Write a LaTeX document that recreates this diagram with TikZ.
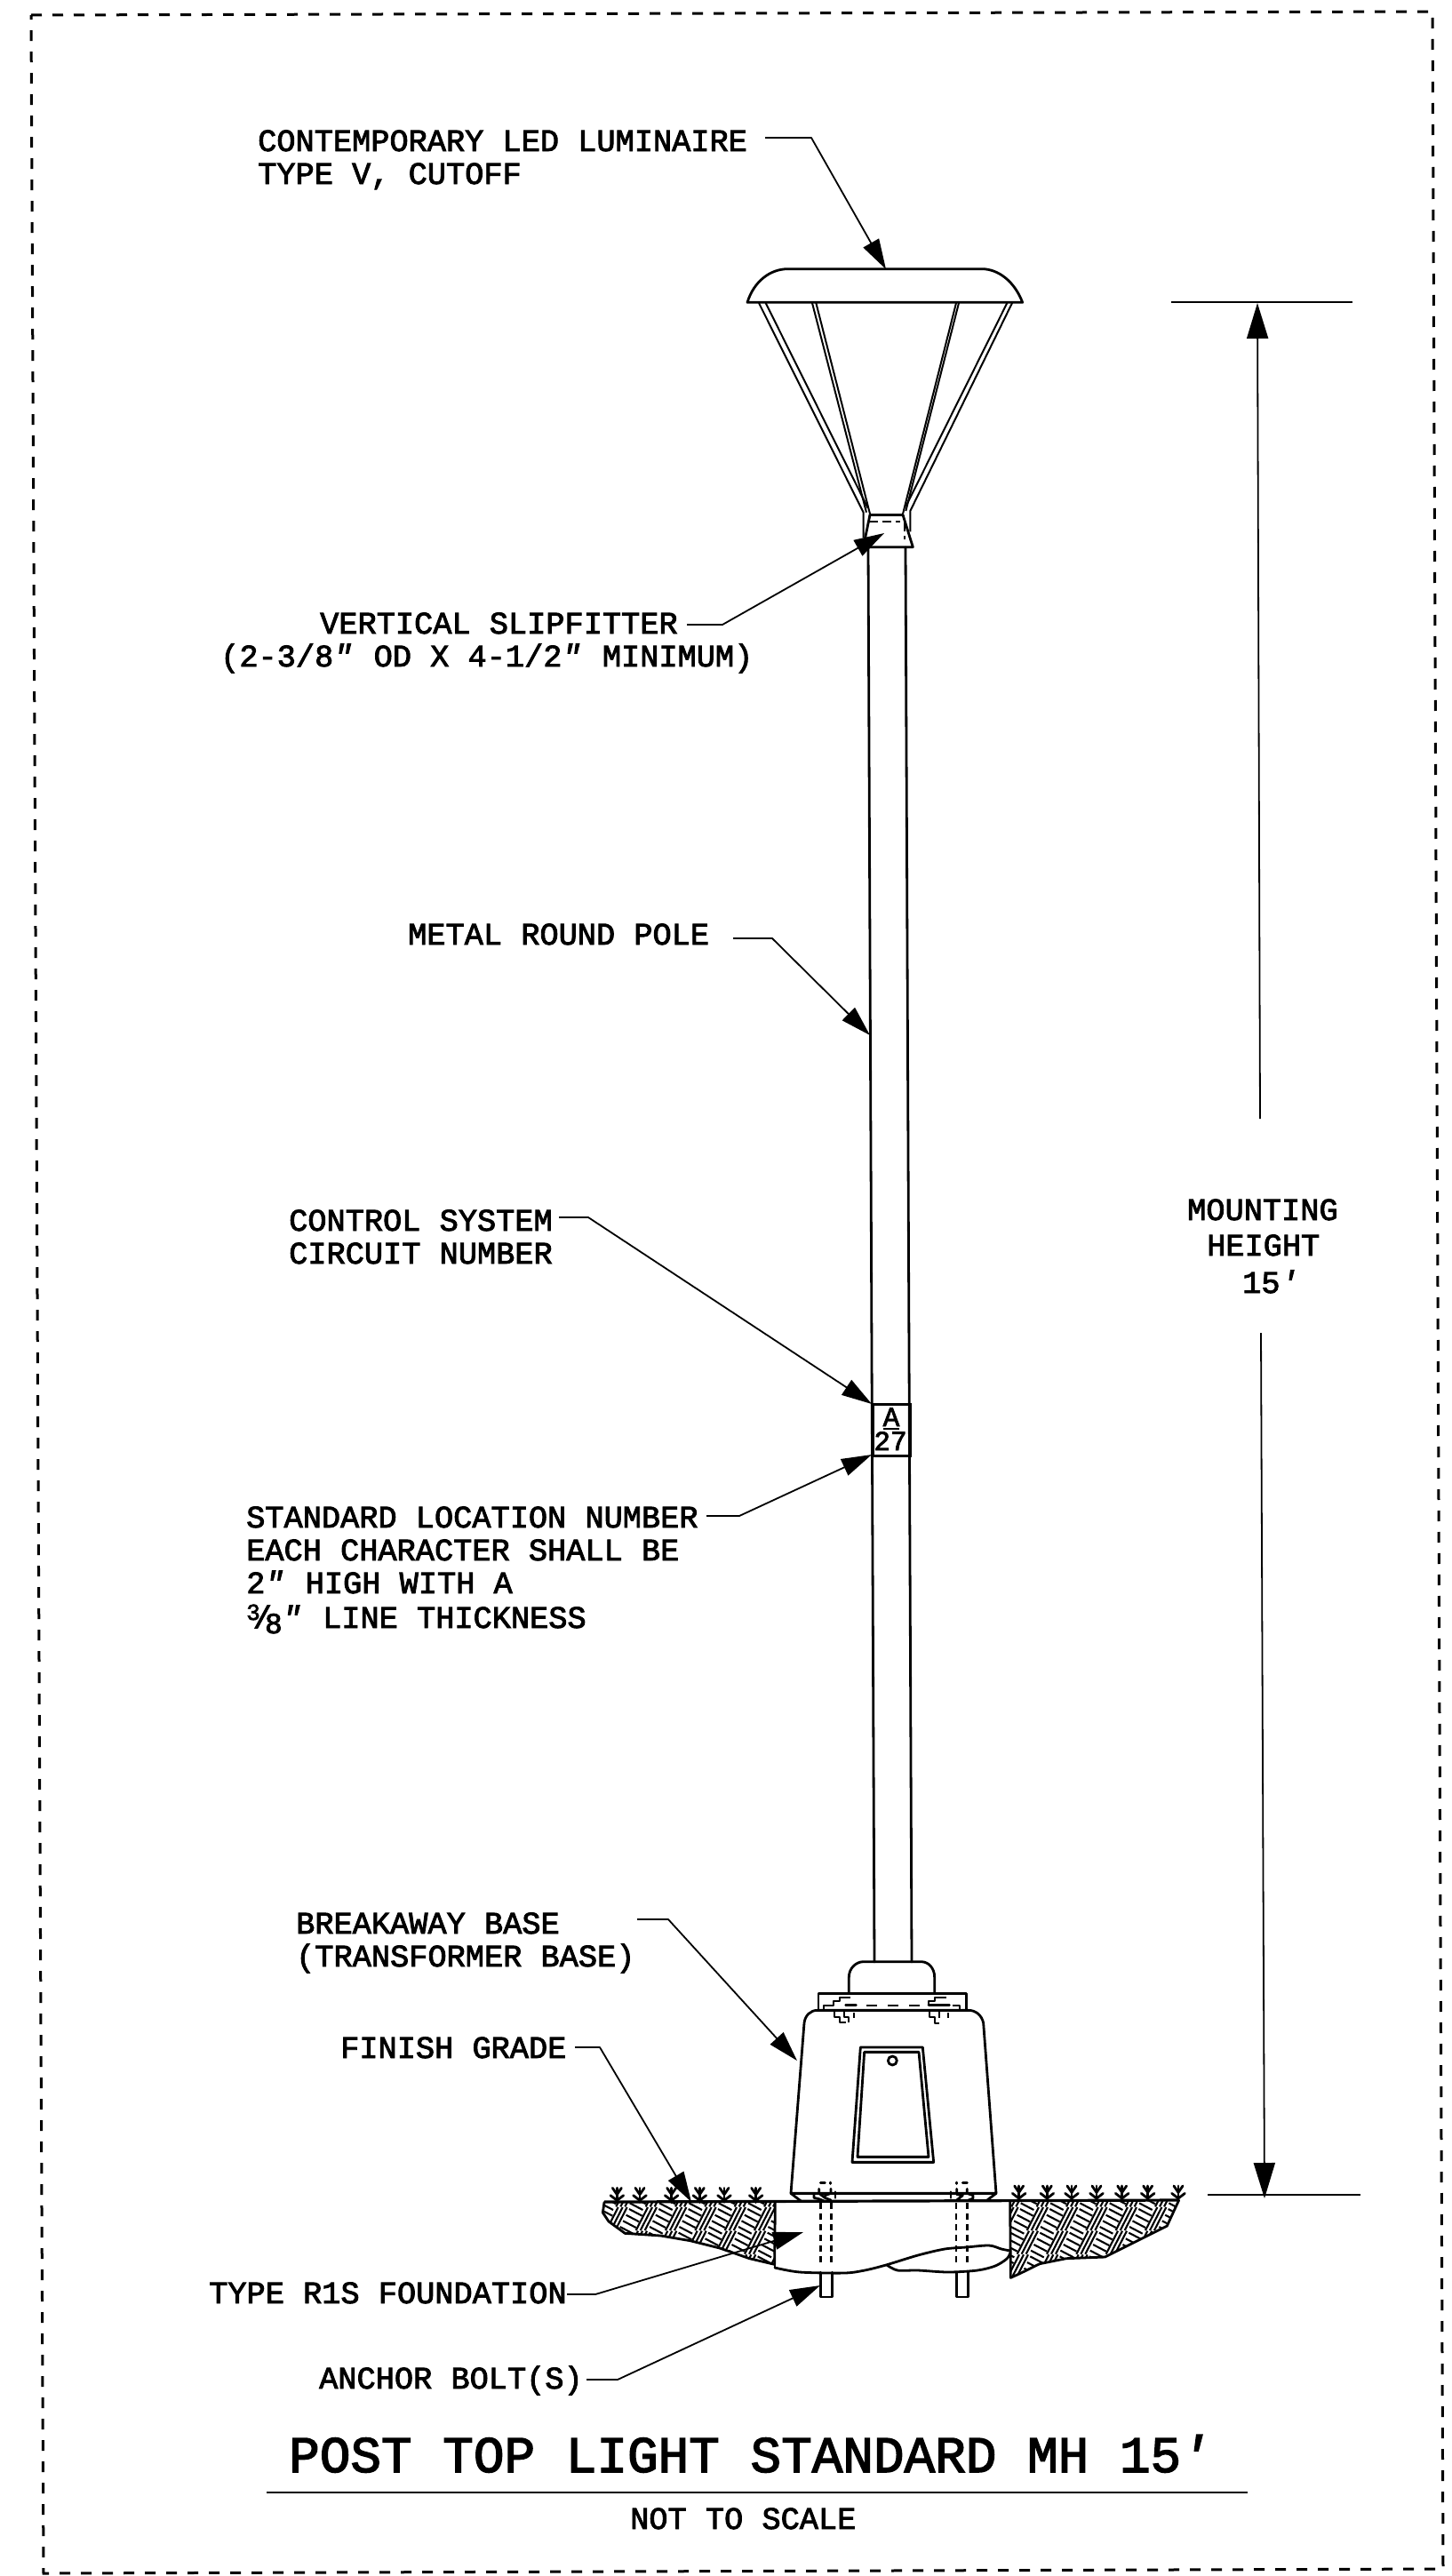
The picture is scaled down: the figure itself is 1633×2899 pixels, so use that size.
\documentclass[tikz,border=0pt]{standalone}
\usepackage{fontspec}
\setmainfont{Liberation Mono}[FakeBold=2.5]
\usetikzlibrary{arrows.meta,calc}
\newcommand{\inchmark}{{\itshape ″}\kern3pt\relax}
\newcommand{\footmark}{{\itshape ′}}
\tikzset{
 lbl/.style={anchor=base west,inner sep=0pt,font=\fontsize{35.3}{40}\selectfont},
 ttl/.style={anchor=base west,inner sep=0pt,font=\fontsize{57.7}{60}\selectfont},
 plate/.style={anchor=base,inner sep=0pt,font=\fontsize{31}{33}\selectfont},
 ln/.style={line width=2.8pt,line join=round,line cap=round},
 thinln/.style={line width=2pt,line join=round},
 leader/.style={line width=1.8pt,line join=round},
 tipA/.style={-{Triangle[length=34pt,width=20pt]}},
 tipD/.style={-{Triangle[length=40pt,width=24pt]}},
 dsh/.style={line width=2.6pt,dash pattern=on 7pt off 5pt},
 brd/.style={line width=3pt,dash pattern=on 12pt off 12pt},
 hatchln/.style={line width=2.1pt,line cap=butt},
 zm/.style={x=0.33333pt,y=-0.33333pt}
}
\newcommand{\herring}{%
 \foreach \i in {-2,...,13}{\foreach \j in {-1,...,5}{%
  \pgfmathsetmacro{\X}{\i*100-\j*33}\pgfmathsetmacro{\Y}{\j*80+130}%
  \foreach \k in {0,1,2}{%
   \draw[hatchln] (\X+15*\k,\Y) -- ++(40,-78);
  }%
  \foreach \k in {0,1,2,3}{%
   \pgfmathsetmacro{\sx}{\X+40+40*(72-20*\k)/78}%
   \pgfmathsetmacro{\sy}{\Y-72+20*\k}%
   \draw[hatchln] (\sx,\sy) -- ++(44,23);
  }}}}
\begin{document}
\begin{tikzpicture}[x=1pt,y=-1pt]
\useasboundingbox (0,0) rectangle (1633,2899);
\fill[white] (0,0) rectangle (1633,2899);
% sheet border
\draw[brd] (35,17) -- (1612,13) -- (1624,2891) -- (49,2896) -- cycle;

% luminaire
\begin{scope}[shift={(780,260)},zm]
\draw[ln] (183,241) -- (1112,241) .. controls (1085,170) and (1030,128) .. (975,128) -- (320,128) .. controls (260,128) and (205,170) .. (183,241) -- cycle;
\draw[thinln] (222,243) -- (575,950) -- (575,1035);
\draw[thinln] (245,243) -- (590,935);
\draw[thinln] (402,243) -- (585,950);
\draw[thinln] (415,243) -- (597,955);
\draw[thinln] (888,243) -- (708,955);
\draw[thinln] (897,243) -- (718,945);
\draw[thinln] (1060,243) -- (718,930);
\draw[thinln] (1077,243) -- (733,945) -- (733,1015);
\draw[ln] (597,958) -- (708,958);
\draw[ln] (597,958) -- (575,1065);
\draw[ln] (708,958) -- (742,1067) -- (590,1067);
\draw[line width=2pt,dash pattern=on 10pt off 5pt] (595,980) -- (700,980);
\draw[line width=2pt,dash pattern=on 10pt off 5pt] (715,985) -- (715,1040);
\end{scope}

% pole
\draw[ln] (977,616) -- (984,2208);
\draw[ln] (1019,616) -- (1026,2208);

% plate on pole
\node[draw,line width=2.6pt,minimum width=42pt,minimum height=58pt,inner sep=0pt,anchor=north west] (platebox) at (981,1579) {};
\node[plate] (plateA) at (1003,1605) {A};
\draw[line width=1.8pt] (994,1608) -- (1012,1608);
\node[plate] (plateN) at (1002,1632) {27};

% base
\begin{scope}[shift={(820,2140)},zm]
\draw[ln] (406,310) -- (406,255) .. controls (406,225) and (430,203) .. (455,203) -- (650,203) .. controls (675,203) and (695,225) .. (695,255) -- (695,310);
\draw[ln] (303,367) -- (303,310) -- (803,310) -- (803,367);
\draw[ln] (210,985) -- (255,410) .. controls (258,385) and (275,367) .. (300,367) -- (810,367) .. controls (835,367) and (855,385) .. (860,410) -- (903,985) -- cycle;
\draw[ln] (210,985) -- (245,1012);
\draw[ln] (903,985) -- (870,1010);
\draw[ln] (445,492) -- (655,492) -- (692,880) -- (417,880) -- cycle;
\draw[ln] (458,508) -- (642,508) -- (675,862) -- (435,862) -- cycle;
\draw[ln] (553,537) circle (15);
\draw[line width=2pt,dash pattern=on 12pt off 12pt] (465,350) -- (660,350);
\draw[thinln] (320,366) -- (320,350) -- (355,350) -- (355,335) -- (375,335) -- (375,323) -- (410,323);
\draw[ln] (395,350) -- (430,350);
\draw[thinln] (358,372) -- (358,390) -- (375,390) -- (375,408) -- (395,408);
\draw[thinln] (390,372) -- (390,390) -- (405,390) -- (405,408);
\draw[thinln] (423,375) -- (423,392);
\draw[thinln] (675,350) -- (675,335) -- (695,335) -- (695,323) -- (735,323);
\draw[ln] (675,350) -- (745,350);
\draw[thinln] (755,350) -- (780,350) -- (780,365);
\draw[thinln] (678,372) -- (678,390) -- (695,390) -- (695,410) -- (712,410);
\draw[thinln] (712,372) -- (712,392);
\draw[thinln] (742,375) -- (742,392);
\end{scope}

% ground hatching
\begin{scope}[shift={(660,2440)},zm]
\begin{scope}
\clip (60,115) -- (55,150) -- (75,180) -- (130,220) -- (250,228) -- (350,245) -- (450,270) -- (550,305) -- (635,325) -- (635,115) -- cycle;
\herring
\end{scope}
\draw[ln] (60,115) -- (55,150) -- (75,180) -- (130,220) -- (250,228) -- (350,245) -- (450,270) -- (550,305) -- (635,325) -- (637,115);
\end{scope}
\begin{scope}[shift={(900,2440)},zm]
\begin{scope}
\clip (710,110) -- (712,370) -- (745,355) -- (810,323) -- (900,305) -- (1030,300) -- (1240,195) -- (1280,108) -- cycle;
\herring
\end{scope}
\draw[ln] (710,110) -- (712,370) -- (745,355) -- (810,323) -- (900,305) -- (1030,300) -- (1240,195) -- (1280,108);
\foreach \tx in {740,835,918,1002,1088,1175,1278}{
 \draw[ln] (\tx,108) -- (\tx,60);
 \draw[ln] (\tx-22,85) -- (\tx,102) -- (\tx+22,85);
 \draw[ln] (\tx-15,60) -- (\tx,82) -- (\tx+15,60);
}
\end{scope}
\begin{scope}[shift={(660,2440)},zm]
\foreach \tx in {103,180,287,382,465,572}{
 \draw[ln] (\tx,115) -- (\tx,67);
 \draw[ln] (\tx-22,92) -- (\tx,109) -- (\tx+22,92);
 \draw[ln] (\tx-15,67) -- (\tx,89) -- (\tx+15,67);
}
\end{scope}
% ground line
\draw[line width=3.2pt] (680,2478) -- (1327,2476);

% foundation
\draw[ln] (872,2478) -- (872,2552);
\draw[ln] plot[smooth,tension=0.5] coordinates {(872,2552) (900,2557) (950,2558) (973,2555) (997,2549) (1033,2538) (1063,2531) (1087,2529) (1113,2527) (1127,2531) (1137,2533)};
\draw[ln] plot[smooth,tension=0.5] coordinates {(998,2549) (1010,2555) (1033,2555) (1067,2557) (1100,2555) (1120,2550) (1133,2542) (1137,2535)};

% anchor bolts and nuts
\begin{scope}[shift={(900,2440)},zm]
\draw[dsh] (70,118) -- (70,330);
\draw[dsh] (106,118) -- (106,330);
\draw[dsh] (528,118) -- (528,330);
\draw[dsh] (565,118) -- (565,330);
\draw[ln] (70,352) -- (70,435) -- (110,435) -- (110,352);
\draw[ln] (530,352) -- (530,435) -- (568,435) -- (568,352);
\draw[ln] (70,50) -- (85,50); \draw[ln] (103,48) -- (103,52);
\draw[ln] (530,48) -- (530,52); \draw[ln] (550,50) -- (565,50);
\draw[ln] (48,88) -- (48,100) -- (65,104) -- (80,110);
\draw[ln] (65,70) -- (65,85) -- (85,100) -- (105,108);
\draw[ln] (85,92) -- (105,85) -- (105,70);
\draw[ln] (120,80) -- (120,100);
\draw[ln] (510,80) -- (510,100);
\draw[ln] (530,70) -- (530,88) -- (550,92) -- (530,108);
\draw[ln] (565,70) -- (565,85) -- (585,92) -- (585,102) -- (565,110);
\end{scope}

% dimension
\draw[thinln] (1318,340) -- (1522,340);
\draw[thinln] (1359,2470) -- (1531,2470);
\coordinate (dimT) at (1415,341);
\coordinate (dimTs) at (1418,1259);
\coordinate (dimB) at (1423,2474);
\coordinate (dimBs) at (1419,1500);
\draw[leader,tipD] (dimTs) -- (dimT);
\draw[leader,tipD] (dimBs) -- (dimB);

% labels
\node[lbl] (lumA) at (290,170) {CONTEMPORARY LED LUMINAIRE};
\node[lbl] (lumB) at (290,207) {TYPE V, CUTOFF};
\node[lbl] (slipA) at (360,713) {VERTICAL SLIPFITTER};
\node[lbl] (slipB) at (248,750) {(2-3/8\inchmark{} OD X 4-1/2\inchmark{} MINIMUM)};
\node[lbl] (poleL) at (459,1063) {METAL ROUND POLE};
\node[lbl] (ctrlA) at (325,1385) {CONTROL SYSTEM};
\node[lbl] (ctrlB) at (325,1422) {CIRCUIT NUMBER};
\node[lbl] (stdA) at (277,1719) {STANDARD LOCATION NUMBER};
\node[lbl] (stdB) at (277,1756) {EACH CHARACTER SHALL BE};
\node[lbl] (stdC) at (277,1793) {2\inchmark{} HIGH WITH A};
\node[lbl] (stdD) at (277,1832) {\raisebox{9pt}{\fontsize{26}{26}\selectfont 3}\kern-8pt/\kern-8pt\raisebox{-6pt}{\fontsize{33}{33}\selectfont 8}\inchmark{} LINE THICKNESS};
\node[lbl] (brkA) at (333,2176) {BREAKAWAY BASE};
\node[lbl] (brkB) at (333,2213) {(TRANSFORMER BASE)};
\node[lbl] (fin) at (383,2316) {FINISH GRADE};
\node[lbl] (fnd) at (235,2592) {TYPE R1S FOUNDATION};
\node[lbl] (anc) at (359,2688) {ANCHOR BOLT(S)};
\node[lbl] (mtA) at (1336,1373) {MOUNTING};
\node[lbl] (mtB) at (1358,1413) {HEIGHT};
\node[lbl] (mtC) at (1398,1455) {15\footmark};
\node[ttl] (title) at (325,2782) {POST TOP LIGHT STANDARD MH 15\kern-2pt\footmark};
\node[lbl] (nts) at (709,2846) {NOT TO SCALE};
\draw[line width=2.6pt] (300,2805) -- (1404,2805);

% leaders
\coordinate (lumS) at (861,155); \coordinate (lumK) at (913,155); \coordinate (lumT) at (997,303);
\coordinate (slipS) at (773,703); \coordinate (slipK) at (813,703); \coordinate (slipT) at (995,600);
\coordinate (poleS) at (825,1056); \coordinate (poleK) at (869,1056); \coordinate (poleT) at (979,1165);
\coordinate (ctrlS) at (629,1370); \coordinate (ctrlK) at (662,1370); \coordinate (ctrlT) at (981,1580);
\coordinate (stdS) at (795,1706); \coordinate (stdK) at (832,1706); \coordinate (stdT) at (981,1637);
\coordinate (brkS) at (717,2160); \coordinate (brkK) at (752,2160); \coordinate (brkT) at (897,2319);
\coordinate (finS) at (647,2304); \coordinate (finK) at (675,2304); \coordinate (finT) at (778,2478);
\coordinate (fndS) at (638,2582); \coordinate (fndK) at (670,2582); \coordinate (fndT) at (904,2512);
\coordinate (ancS) at (660,2678); \coordinate (ancK) at (695,2678); \coordinate (ancT) at (923,2572);
\draw[leader,tipA] (lumS) -- (lumK) -- (lumT);
\draw[leader,tipA] (slipS) -- (slipK) -- (slipT);
\draw[leader,tipA] (poleS) -- (poleK) -- (poleT);
\draw[leader,tipA] (ctrlS) -- (ctrlK) -- (ctrlT);
\draw[leader,tipA] (stdS) -- (stdK) -- (stdT);
\draw[leader,tipA] (brkS) -- (brkK) -- (brkT);
\draw[leader,tipA] (finS) -- (finK) -- (finT);
\draw[leader,tipA] (fndS) -- (fndK) -- (fndT);
\draw[leader,tipA] (ancS) -- (ancK) -- (ancT);
\end{tikzpicture}
\end{document}
